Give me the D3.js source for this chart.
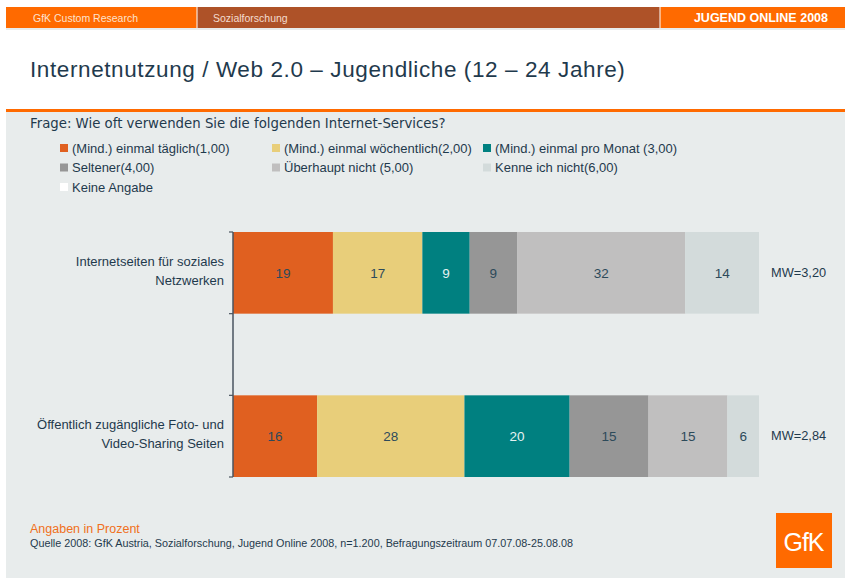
<!DOCTYPE html>
<html>
<head>
<meta charset="utf-8">
<script src="https://cdn.jsdelivr.net/npm/d3@7"></script>
<style>
  body { margin: 0; background: #fff; }
  text { font-family: "Liberation Sans", Arial, sans-serif; }
</style>
</head>
<body>
<div id="chart"></div>
<script>
// Daten
const categories = ["Internetseiten für soziales Netzwerken", "Öffentlich zugängliche Foto- und Video-Sharing Seiten"];
const catLines = [["Internetseiten für soziales", "Netzwerken"], ["Öffentlich zugängliche Foto- und", "Video-Sharing Seiten"]];
const seriesNames = ["(Mind.) einmal täglich(1,00)", "(Mind.) einmal wöchentlich(2,00)", "(Mind.) einmal pro Monat (3,00)",
  "Seltener(4,00)", "Überhaupt nicht (5,00)", "Kenne ich nicht(6,00)", "Keine Angabe"];
const taeglich = [19, 16];
const woechentlich = [17, 28];
const monatlich = [9, 20];
const seltener = [9, 15];
const ueberhaupt = [32, 15];
const kenneNicht = [14, 6];
const keineAngabe = [0, 0];
const mwLabels = ["MW=3,20", "MW=2,84"];

const colors = ["#e06020", "#e8ce7a", "#008080", "#969696", "#c0bfbf", "#d3dbdb", "#ffffff"];
const labelColors = ["#2d4a5a", "#2d4a5a", "#e4f2f2", "#2d4a5a", "#2d4a5a", "#2d4a5a", "#2d4a5a"];
const textCol = "#1f3a4d";

const allSeries = [taeglich, woechentlich, monatlich, seltener, ueberhaupt, kenneNicht, keineAngabe];
const table = categories.map((c, i) => {
  const row = { cat: c };
  seriesNames.forEach((s, j) => row[s] = allSeries[j][i]);
  return row;
});

const width = 845, height = 581;
const svg = d3.select("#chart").append("svg")
  .attr("width", width).attr("height", height);

// Kopfzeile
svg.append("rect").attr("x", 6).attr("y", 7).attr("width", width - 6).attr("height", 21).attr("fill", "#ff6a00");
svg.append("rect").attr("x", 197).attr("y", 7).attr("width", 463).attr("height", 21).attr("fill", "#ae5228");
svg.append("line").attr("x1", 197).attr("x2", 197).attr("y1", 7).attr("y2", 28).attr("stroke", "#fff");
svg.append("line").attr("x1", 660).attr("x2", 660).attr("y1", 7).attr("y2", 28).attr("stroke", "#fff");
svg.append("rect").attr("x", 6).attr("y", 28).attr("width", width - 6).attr("height", 2).attr("fill", "#e8ecec");
svg.append("text").attr("x", 33).attr("y", 22).attr("fill", "#fde3cf").attr("font-size", 10.5).text("GfK Custom Research");
svg.append("text").attr("x", 213).attr("y", 22).attr("fill", "#f4ddd0").attr("font-size", 10.5).text("Sozialforschung");
svg.append("text").attr("x", 828).attr("y", 22).attr("text-anchor", "end").attr("fill", "#fff")
  .attr("font-size", 12.5).attr("font-weight", "bold").text("JUGEND ONLINE 2008");

// Titel
svg.append("text").attr("x", 30).attr("y", 77).attr("fill", textCol).attr("font-size", 22.5)
  .attr("letter-spacing", 0.6)
  .text("Internetnutzung / Web 2.0 – Jugendliche (12 – 24 Jahre)");

// Panel
svg.append("rect").attr("x", 6).attr("y", 112).attr("width", width - 6).attr("height", 466).attr("fill", "#e8ecec");
svg.append("rect").attr("x", 6).attr("y", 109).attr("width", width - 6).attr("height", 3).attr("fill", "#ff6a00");

svg.append("text").attr("x", 30).attr("y", 128).attr("fill", textCol).attr("font-size", 13.3)
  .style("font-family", "DejaVu Sans").text("Frage: Wie oft verwenden Sie die folgenden Internet-Services?");

// Legende
const legX = [60, 272, 483];
const leg = svg.append("g").selectAll("g").data(seriesNames).join("g")
  .attr("transform", (d, i) => `translate(${legX[i % 3]},${148 + Math.floor(i / 3) * 19.5})`);
leg.append("rect").attr("x", 0).attr("y", -4).attr("width", 8).attr("height", 8).attr("fill", (d, i) => colors[i]);
leg.append("text").attr("x", 12).attr("y", 4.5).attr("fill", textCol).attr("font-size", 13).text(d => d);

// Balken
const x = d3.scaleLinear().domain([0, 100]).range([233, 759]);
const y = d3.scaleBand().domain(categories).range([232, 477]).paddingInner(0.5);
const stack = d3.stack().keys(seriesNames)(table);

const layers = svg.append("g").selectAll("g").data(stack).join("g")
  .attr("fill", (d, i) => colors[i]);
layers.selectAll("rect").data(d => d).join("rect")
  .attr("x", d => x(d[0]))
  .attr("y", d => y(d.data.cat))
  .attr("width", d => x(d[1]) - x(d[0]))
  .attr("height", y.bandwidth());

stack.forEach((layer, i) => {
  svg.append("g").selectAll("text").data(layer.filter(d => d[1] - d[0] > 0)).join("text")
    .attr("x", d => (x(d[0]) + x(d[1])) / 2)
    .attr("y", d => y(d.data.cat) + y.bandwidth() / 2 + 5)
    .attr("text-anchor", "middle")
    .attr("fill", labelColors[i])
    .attr("font-size", 13.5)
    .text(d => d[1] - d[0]);
});

// Achse
const axisG = svg.append("g");
axisG.append("line").attr("x1", 233).attr("x2", 233).attr("y1", 232).attr("y2", 477).attr("stroke", "#4a5560").attr("stroke-width", 1.5);
const tickYs = [];
categories.forEach(c => { tickYs.push(y(c)); tickYs.push(y(c) + y.bandwidth()); });
axisG.selectAll(".tick").data(tickYs).join("line")
  .attr("x1", 229).attr("x2", 233).attr("y1", d => d).attr("y2", d => d).attr("stroke", "#4a5560").attr("stroke-width", 1.2);

// Kategorien
categories.forEach((c, i) => {
  const cy = y(c) + y.bandwidth() / 2;
  const t = svg.append("text").attr("text-anchor", "end").attr("fill", textCol).attr("font-size", 13);
  catLines[i].forEach((l, k) => {
    t.append("tspan").attr("x", 224).attr("y", cy - 7 + k * 19).text(l);
  });
  svg.append("text").attr("x", 771).attr("y", cy + 4).attr("fill", textCol).attr("font-size", 12.8).text(mwLabels[i]);
});

// Fußzeile
svg.append("text").attr("x", 30).attr("y", 533).attr("fill", "#f07020").attr("font-size", 12.5).text("Angaben in Prozent");
svg.append("text").attr("x", 30).attr("y", 547).attr("fill", textCol).attr("font-size", 10.8)
  .text("Quelle 2008: GfK Austria, Sozialforschung, Jugend Online 2008, n=1.200, Befragungszeitraum 07.07.08-25.08.08");

svg.append("rect").attr("x", 776).attr("y", 513).attr("width", 56).attr("height", 55).attr("fill", "#ff6a00");
svg.append("text").attr("x", 803.5).attr("y", 551).attr("text-anchor", "middle").attr("fill", "#fff")
  .attr("font-size", 25).attr("letter-spacing", -1).text("GfK");
</script>
</body>
</html>
